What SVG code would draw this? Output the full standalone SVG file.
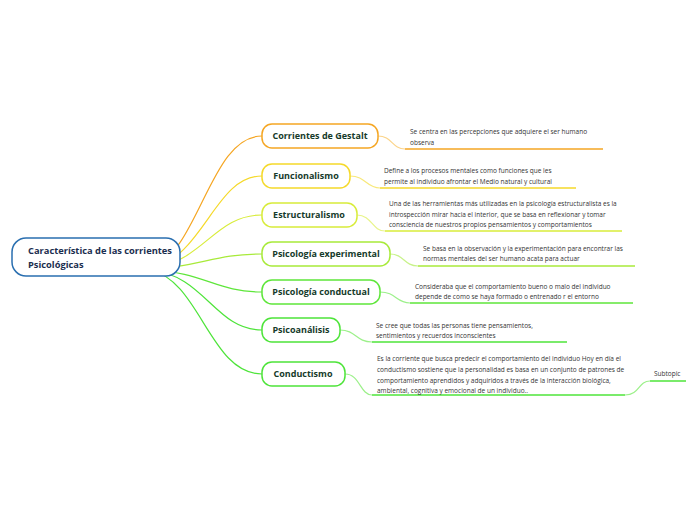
<svg xmlns="http://www.w3.org/2000/svg" width="696" height="520" viewBox="0 0 696 520">
<style>
.n{fill:#fff;stroke-width:1.5}
.l{font-family:"Open Sans",sans-serif;font-size:9px;font-weight:bold;fill:#163b2b;text-anchor:middle}
.d{font-family:"Open Sans",sans-serif;font-size:6.5px;fill:#333}
.c{fill:none;stroke-width:1.2}
</style>
<rect width="696" height="520" fill="#fff"/>
<g id="connectors">
<path class="c" stroke="#f5a623" d="M150,270 C200,250 210,136 262,136"/>
<path class="c" stroke="#f5d92a" d="M150,270 C205,255 215,176 262,176"/>
<path class="c" stroke="#d8ec3a" d="M150,270 C205,260 215,215 262,215"/>
<path class="c" stroke="#a8ea3a" d="M150,270 C205,265 215,254 262,254"/>
<path class="c" stroke="#5ee63a" d="M150,270 C205,272 215,292 262,292"/>
<path class="c" stroke="#4ee43a" d="M150,270 C205,275 215,330 262,330"/>
<path class="c" stroke="#4ee43a" d="M150,270 C200,280 210,374 262,374"/>
<path class="c" stroke="#fbd48a" d="M378,136 C392,136 392,149 405,149"/>
<path stroke="#f5a623" stroke-width="1.5" d="M405,149 H603"/>
<path class="c" stroke="#f8e87a" d="M350,176 C366,176 366,188 380,188"/>
<path stroke="#f5d92a" stroke-width="1.5" d="M380,188 H576"/>
<path class="c" stroke="#e8f48a" d="M357,215 C372,215 372,231 385,231"/>
<path stroke="#d8ec3a" stroke-width="1.5" d="M385,231 H622"/>
<path class="c" stroke="#c8f28a" d="M390,254 C404,254 404,266 418,266"/>
<path stroke="#a8ea3a" stroke-width="1.5" d="M418,266 H635"/>
<path class="c" stroke="#9cf08a" d="M380,292 C396,292 396,303 410,303"/>
<path stroke="#5ee63a" stroke-width="1.5" d="M410,303 H633"/>
<path class="c" stroke="#9cf08a" d="M340,330 C356,330 356,342 372,342"/>
<path stroke="#4ee43a" stroke-width="1.5" d="M372,342 H567"/>
<path class="c" stroke="#9cf08a" d="M345,374 C360,374 360,395 372,395"/>
<path stroke="#4ee43a" stroke-width="1.5" d="M372,395 H625"/>
<path class="c" stroke="#9cf08a" d="M625,395 C640,395 638,381 650,381"/>
<path stroke="#4ee43a" stroke-width="1.5" d="M650,381 H686"/>
</g>
<g id="root"><rect class="n" x="12" y="238" width="168" height="38" rx="14" stroke="#2a6fb0"/>
<text font-family="Open Sans,sans-serif" font-size="9.3" font-weight="bold" fill="#1b2e4f"><tspan x="28" y="254">Característica de las corrientes</tspan><tspan x="28" y="268">Psicológicas</tspan></text></g>
<g id="n1"><rect class="n" x="262" y="124" width="116" height="24" rx="10" stroke="#f5a623"/><text class="l" x="320" y="139">Corrientes de Gestalt</text></g>
<g id="n2"><rect class="n" x="262" y="164" width="88" height="24" rx="10" stroke="#f5d92a"/><text class="l" x="306" y="179">Funcionalismo</text></g>
<g id="n3"><rect class="n" x="262" y="203" width="95" height="24" rx="10" stroke="#d8ec3a"/><text class="l" x="309" y="218">Estructuralismo</text></g>
<g id="n4"><rect class="n" x="262" y="242" width="128" height="24" rx="10" stroke="#a8ea3a"/><text class="l" x="326" y="257">Psicología experimental</text></g>
<g id="n5"><rect class="n" x="262" y="280" width="118" height="24" rx="10" stroke="#5ee63a"/><text class="l" x="321" y="295">Psicología conductual</text></g>
<g id="n6"><rect class="n" x="262" y="318" width="78" height="24" rx="10" stroke="#4ee43a"/><text class="l" x="301" y="333">Psicoanálisis</text></g>
<g id="n7"><rect class="n" x="262" y="362" width="83" height="24" rx="10" stroke="#4ee43a"/><text class="l" x="303" y="377">Conductismo</text></g>
<g id="t1"><text class="d"><tspan x="410" y="134">Se centra en las percepciones que adquiere el ser humano</tspan><tspan x="410" y="145">observa</tspan></text></g>
<g id="t2"><text class="d"><tspan x="384" y="173">Define a los procesos mentales como funciones que les</tspan><tspan x="384" y="184">permite al individuo afrontar el Medio natural y cultural</tspan></text></g>
<g id="t3"><text class="d"><tspan x="389" y="206">Una de las herramientas más utilizadas en la psicología estructuralista es la</tspan><tspan x="389" y="216.5">introspección mirar hacia el interior, que se basa en reflexionar y tomar</tspan><tspan x="389" y="227">consciencia de nuestros propios pensamientos y comportamientos</tspan></text></g>
<g id="t4"><text class="d"><tspan x="423" y="251">Se basa en la observación y la experimentación para encontrar las</tspan><tspan x="423" y="261">normas mentales del ser humano acata para actuar</tspan></text></g>
<g id="t5"><text class="d"><tspan x="415" y="289">Consideraba que el comportamiento bueno o malo del individuo</tspan><tspan x="415" y="299">depende de como se haya formado o entrenado r el entorno</tspan></text></g>
<g id="t6"><text class="d"><tspan x="376" y="328">Se cree que todas las personas tiene pensamientos,</tspan><tspan x="376" y="338">sentimientos y recuerdos inconscientes</tspan></text></g>
<g id="t7"><text class="d"><tspan x="377" y="361">Es la corriente que busca predecir el comportamiento del individuo Hoy en día el</tspan><tspan x="377" y="372">conductismo sostiene que la personalidad es basa en un conjunto de patrones de</tspan><tspan x="377" y="383">comportamiento aprendidos y adquiridos a través de la interacción biológica,</tspan><tspan x="377" y="393">ambiental, cognitiva y emocional de un individuo..</tspan></text></g>
<g id="sub"><text class="d" x="654" y="376">Subtopic</text></g>
</svg>
